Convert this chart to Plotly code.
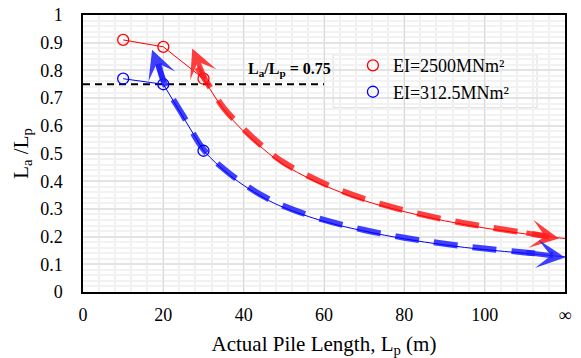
import plotly.graph_objects as go

# Measured points (open circles)
pts_x = [10, 20, 30]
red_pts_y = [0.91, 0.885, 0.77]
blue_pts_y = [0.77, 0.75, 0.51]

# Fitted curves beyond 30 m
curve_x = [30, 35, 40, 45, 50, 60, 70, 80, 90, 100, 110, 120]
red_curve_y = [0.77, 0.66, 0.58, 0.515, 0.46, 0.385, 0.33, 0.29, 0.257, 0.231, 0.21, 0.193]
blue_curve_y = [0.51, 0.44, 0.385, 0.34, 0.305, 0.255, 0.22, 0.192, 0.17, 0.153, 0.14, 0.127]

# Trend arrows (thick dashed)
red_trend_x = [28.4, 30.5, 35, 40, 45, 50, 60, 70, 80, 90, 100, 110, 116]
red_trend_y = [0.81, 0.765, 0.665, 0.588, 0.522, 0.467, 0.392, 0.336, 0.295, 0.262, 0.236, 0.214, 0.2]
blue_trend_x = [18.8, 20.3, 25, 30, 35, 40, 45, 50, 60, 70, 80, 90, 100, 110, 117]
blue_trend_y = [0.824, 0.752, 0.635, 0.515, 0.445, 0.39, 0.345, 0.31, 0.26, 0.224, 0.196, 0.174, 0.157, 0.143, 0.133]

x_ticks = [0, 20, 40, 60, 80, 100, 120]
x_ticktext = ["0", "20", "40", "60", "80", "100", "∞"]
y_ticks = [0, 0.1, 0.2, 0.3, 0.4, 0.5, 0.6, 0.7, 0.8, 0.9, 1]
y_ticktext = ["0", "0.1", "0.2", "0.3", "0.4", "0.5", "0.6", "0.7", "0.8", "0.9", "1"]

ratio_x = [0, 60]
ratio_y = [0.75, 0.75]

RED = "#ff0000"
BLUE = "#0000ff"
RED_T = "rgba(255,30,30,0.85)"
BLUE_T = "rgba(30,30,255,0.85)"
FONT = "Liberation Serif, serif"

fig = go.Figure()

# reference line La/Lp = 0.75
fig.add_trace(go.Scatter(x=ratio_x, y=ratio_y, mode="lines",
                         line=dict(color="black", width=1.8, dash="7px,5px"),
                         showlegend=False, hoverinfo="skip"))

# thick dashed trend lines
fig.add_trace(go.Scatter(x=red_trend_x, y=red_trend_y, mode="lines",
                         line=dict(color=RED_T, width=6, dash="24px,15px", shape="spline"),
                         showlegend=False, hoverinfo="skip"))
fig.add_trace(go.Scatter(x=blue_trend_x, y=blue_trend_y, mode="lines",
                         line=dict(color=BLUE_T, width=6, dash="24px,15px", shape="spline"),
                         showlegend=False, hoverinfo="skip"))

# thin connecting lines and curves
fig.add_trace(go.Scatter(x=pts_x, y=red_pts_y, mode="lines",
                         line=dict(color=RED, width=1), showlegend=False))
fig.add_trace(go.Scatter(x=curve_x, y=red_curve_y, mode="lines",
                         line=dict(color=RED, width=1, shape="spline"), showlegend=False))
fig.add_trace(go.Scatter(x=pts_x, y=blue_pts_y, mode="lines",
                         line=dict(color=BLUE, width=1), showlegend=False))
fig.add_trace(go.Scatter(x=curve_x, y=blue_curve_y, mode="lines",
                         line=dict(color=BLUE, width=1, shape="spline"), showlegend=False))

# open-circle markers
fig.add_trace(go.Scatter(x=pts_x, y=red_pts_y, mode="markers", name="EI=2500MNm²",
                         marker=dict(symbol="circle-open", size=11, color=RED,
                                     line=dict(width=1.3, color=RED))))
fig.add_trace(go.Scatter(x=pts_x, y=blue_pts_y, mode="markers", name="EI=312.5MNm²",
                         marker=dict(symbol="circle-open", size=11, color=BLUE,
                                     line=dict(width=1.3, color=BLUE))))

def head(tip_x, tip_y, from_x, from_y, color):
    return dict(x=tip_x, y=tip_y, ax=from_x, ay=from_y, xref="x", yref="y",
                axref="x", ayref="y", text="", showarrow=True, arrowhead=3,
                arrowsize=0.95, arrowwidth=5, arrowcolor=color, standoff=0)

annotations = [
    head(red_trend_x[0] - 1.2, 0.879, red_trend_x[1], red_trend_y[1], RED_T),
    head(118.5, 0.193, red_trend_x[-2], red_trend_y[-2], RED_T),
    head(blue_trend_x[0] - 1.6, 0.875, blue_trend_x[1], blue_trend_y[1], BLUE_T),
    head(120, 0.125, blue_trend_x[-2], blue_trend_y[-2], BLUE_T),
    dict(x=51.5, y=0.805, xref="x", yref="y", showarrow=False,
         text="<b>L<sub>a</sub>/L<sub>p</sub> = 0.75</b>",
         font=dict(family=FONT, size=16, color="black")),
]

fig.update_layout(
    width=581, height=358,
    margin=dict(l=83, r=16, t=15, b=66),
    paper_bgcolor="white", plot_bgcolor="white",
    font=dict(family=FONT, size=18, color="black"),
    annotations=annotations,
    shapes=[dict(type="rect", xref="paper", yref="paper",
                 x0=0.519, x1=0.942, y0=0.665, y1=0.856,
                 fillcolor="white", line=dict(color="#d9d9d9", width=1), layer="between")],
    legend=dict(x=0.56, y=0.884, xanchor="left", yanchor="top",
                bgcolor="rgba(0,0,0,0)", borderwidth=0,
                font=dict(family=FONT, size=18, color="black"),
                itemwidth=30, tracegroupgap=0),
    showlegend=True,
)

fig.update_xaxes(range=[0, 120], tickvals=x_ticks, ticktext=x_ticktext,
                 showline=True, linecolor="black", linewidth=1.5, mirror=True,
                 showgrid=True, gridcolor="#d9d9d9", gridwidth=1.2,
                 minor=dict(dtick=4, showgrid=True, gridcolor="#f0f0f0", gridwidth=2),
                 ticks="", zeroline=False, ticklabelstandoff=6, automargin=False,
                 tickfont=dict(family=FONT, size=18),
                 title=dict(text="Actual Pile Length, L<sub>p</sub> (m)",
                            font=dict(family=FONT, size=21), standoff=12))
fig.update_yaxes(range=[0, 1], tickvals=y_ticks, ticktext=y_ticktext,
                 showline=True, linecolor="black", linewidth=1.5, mirror=True,
                 showgrid=True, gridcolor="#e3e3e3", gridwidth=1.5,
                 minor=dict(dtick=0.02, showgrid=True, gridcolor="#f2f2f2", gridwidth=1.5),
                 ticks="", zeroline=False, ticklabelstandoff=15, automargin=False,
                 tickfont=dict(family=FONT, size=18),
                 title=dict(text="L<sub>a</sub> /L<sub>p</sub>",
                            font=dict(family=FONT, size=21), standoff=6))

fig.write_html("out.html")
